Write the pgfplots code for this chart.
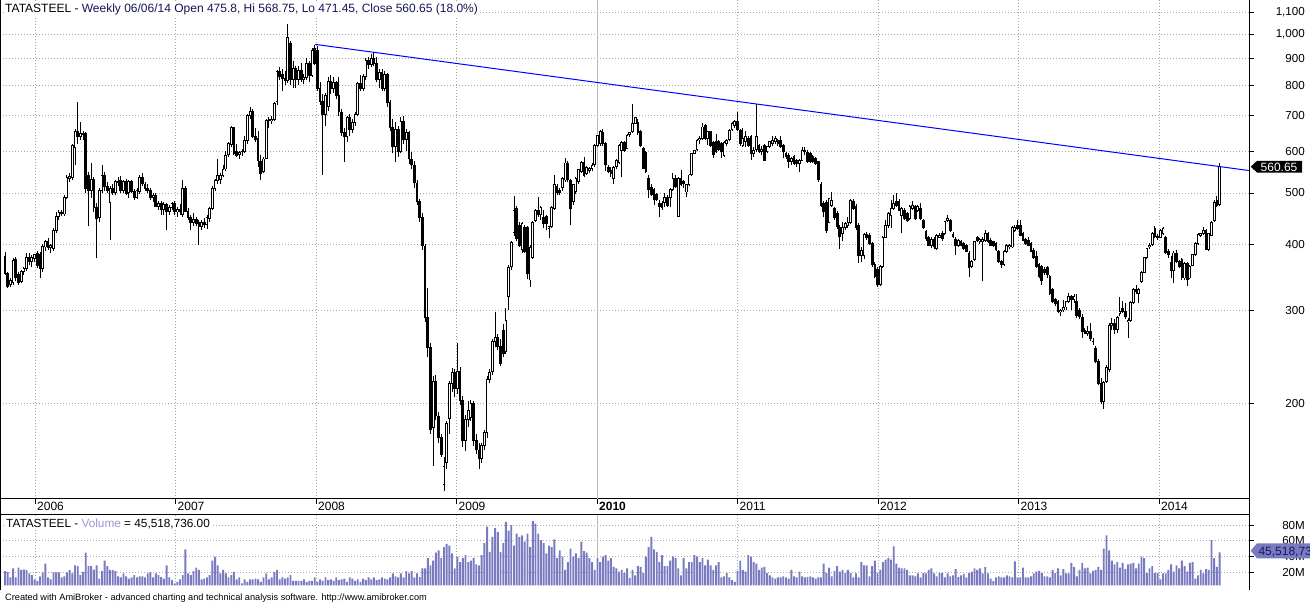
\documentclass[border=0pt]{standalone}
\usepackage{fontspec}
\setmainfont{Liberation Sans}
\usepackage{pgfplots}
\usepackage{pgfplotstable}
\pgfplotsset{compat=1.18}
\definecolor{volbar}{RGB}{122,122,192}
\definecolor{vollab}{RGB}{152,152,216}
\definecolor{hdr}{RGB}{22,22,88}
\definecolor{gridc}{RGB}{168,168,168}
\pgfplotstableread{
i O H L C V
0 380 386 350 352 21.5
1 352 355 330 333 20.7
2 335 345 332 342 13.5
3 338 376 335 372 25
4 375 378 340 345 13.5
5 350 355 335 338 26
6 340 358 337 355 23
7 355 362 350 360 23.6
8 360 385 356 378 23
9 378 385 365 370 18.6
10 370 382 362 378 16.5
11 376 384 370 382 11
12 384 388 360 365 9.3
13 382 386 345 360 15
14 360 400 355 396 20
15 395 408 388 404 31
16 404 410 390 394 13.5
17 394 400 385 398 11
18 392 430 388 425 20
19 425 460 420 452 20
20 452 465 444 460 20
21 460 465 452 456 13.5
22 456 495 452 491 15
23 491 540 487 535 20
24 533 545 525 538 23
25 535 620 530 615 18.6
26 610 660 565 655 29
27 655 742 620 640 28
28 640 680 630 648 16.5
29 648 655 630 645 20.7
30 648 652 500 510 45
31 540 548 432 505 28
32 505 570 490 530 28
33 530 535 460 470 23.6
34 470 478 376 448 29
35 450 512 440 505 12
36 505 565 500 540 21.5
37 540 548 505 515 35
38 515 525 500 505 28
39 480 515 407 510 23
40 510 520 495 500 23
41 500 530 495 525 21.5
42 525 535 515 522 15
43 528 538 500 505 13.5
44 505 530 500 525 18.6
45 525 532 495 498 15
46 500 530 490 525 12
47 525 530 500 503 13.5
48 503 508 485 490 16.5
49 490 510 488 505 13.5
50 503 540 498 535 15
51 535 545 515 520 15
52 520 525 505 510 13.5
53 510 520 500 505 18.6
54 505 510 485 490 20.7
55 490 500 480 495 13.5
56 495 500 470 472 18.6
57 472 482 465 478 16.5
58 478 482 455 465 14
59 465 480 455 475 12
60 475 478 425 460 29
61 462 475 455 470 13.5
62 470 480 465 478 10
63 478 482 455 460 6
64 460 470 450 465 8
65 465 476 455 460 11
66 455 528 450 510 16.5
67 510 515 460 462 49
68 462 468 445 450 18.6
69 450 455 425 440 16.5
70 440 458 432 445 21.5
71 445 450 432 438 26
72 440 445 398 432 23
73 432 445 425 440 11
74 440 448 430 435 12
75 435 455 428 450 13.5
76 448 470 440 468 16.5
77 468 515 465 510 35
78 510 532 505 528 40
79 528 580 520 540 29
80 530 545 520 540 18.6
81 540 565 535 555 23
82 555 600 550 590 18.6
83 590 625 585 620 13.5
84 618 670 610 665 16.5
85 665 668 590 595 20.7
86 600 620 585 588 11
87 590 600 580 596 13.5
88 596 605 588 600 6
89 598 640 595 630 11
90 628 705 620 700 8
91 700 728 690 715 11
92 715 720 635 640 11
93 640 665 625 630 12
94 635 655 560 575 11
95 575 590 530 545 8
96 548 585 545 580 13.5
97 582 690 580 685 18.6
98 685 695 665 688 11
99 685 700 675 690 13.5
100 690 745 685 740 20.7
101 745 855 735 850 23
102 850 865 820 830 11
103 840 860 780 825 13.5
104 825 850 800 815 12
105 815 1045 808 985 13.5
106 960 970 800 820 16.5
107 820 890 790 860 9.3
108 860 870 790 820 9.3
109 820 870 800 855 9.3
110 855 880 810 820 9.3
111 820 840 805 828 11
112 828 900 820 880 8
113 880 890 810 835 9.3
114 835 940 830 930 9.3
115 940 955 875 880 13.5
116 930 950 780 790 8
117 790 810 735 745 11
118 745 770 541 705 9.3
119 705 775 670 765 13.5
120 730 830 715 815 10
121 815 835 770 790 11
122 790 830 775 810 9.3
123 810 815 755 765 13.5
124 765 830 700 712 10
125 712 720 640 650 11
126 650 665 572 640 12
127 640 700 625 695 8
128 695 705 640 660 13.5
129 660 690 650 680 12
130 680 712 670 705 9.3
131 705 810 700 805 11
132 805 835 780 790 8
133 790 840 780 830 12
134 830 900 820 890 10
135 890 905 860 875 13.5
136 875 915 865 900 11
137 900 925 870 880 13.5
138 880 905 810 820 10
139 820 860 790 845 11
140 845 860 780 790 13.5
141 790 850 780 838 12
142 838 845 728 742 11
143 742 750 655 665 13.5
144 665 690 595 612 18.6
145 612 682 572 660 15
146 660 670 585 600 13.5
147 600 695 595 682 18.6
148 682 700 620 630 13.5
149 630 660 600 650 21.5
150 650 655 568 580 18.6
151 580 598 555 565 21.5
152 565 575 512 522 13.5
153 522 530 475 482 18.6
154 482 488 440 450 14
155 450 458 390 397 25
156 397 400 285 290 25
157 290 330 245 255 38
158 255 260 175 178 29
159 180 225 152 220 35
160 220 226 186 189 45
161 189 192 168 172 48
162 172 175 158 160 38
163 140 158 136 152 52
164 154 185 150 183 56
165 187 220 175 218 54
166 218 233 210 229 44
167 229 232 205 213 25
168 213 260 208 230 40
169 230 234 198 202 33
170 202 206 165 170 38
171 170 190 162 186 42
172 186 202 180 194 33
173 188 203 185 200 35
174 200 202 166 170 38
175 170 175 160 163 30
176 163 168 150 157 29
177 157 168 154 166 42
178 166 178 163 176 57
179 176 225 172 222 78
180 222 232 218 229 46
181 229 265 226 262 65
182 262 297 255 266 76
183 266 270 252 256 71
184 256 265 235 238 46
185 275 282 244 248 57
186 250 303 248 287 84
187 318 365 300 362 73
188 362 405 358 403 80
189 420 493 415 464 54
190 467 472 405 410 69
191 434 440 395 398 65
192 390 440 385 437 67
193 430 435 385 388 59
194 430 432 343 352 69
195 342 398 332 395 52
196 378 442 375 440 85
197 444 466 440 464 82
198 464 491 450 455 69
199 455 472 445 470 61
200 450 464 430 438 57
201 452 455 425 438 44
202 428 432 410 432 54
203 432 472 430 470 52
204 468 541 465 518 62
205 515 520 495 500 38
206 505 512 495 500 48
207 511 536 505 533 40
208 529 582 525 570 23
209 570 575 525 529 33
210 529 532 434 468 50
211 482 520 475 518 40
212 503 536 498 533 44
213 525 556 520 553 38
214 548 574 545 572 59
215 572 586 535 540 47
216 545 562 540 558 45
217 552 560 545 557 38
218 557 570 550 565 33
219 565 618 560 616 23
220 616 645 612 644 38
221 620 658 615 653 33
222 650 660 615 620 40
223 620 625 550 565 42
224 560 565 545 550 35
225 552 560 535 545 38
226 533 562 521 560 27
227 560 580 555 577 25
228 572 618 568 616 21
229 602 626 535 624 23
230 624 628 598 602 19
231 608 646 605 644 25
232 644 652 638 650 13
233 653 738 650 678 23
234 678 698 675 696 16
235 681 690 645 650 28
236 653 658 612 616 27
237 608 612 555 557 19
238 597 600 545 548 40
239 533 541 489 507 52
240 513 520 494 497 65
241 507 510 474 485 49
242 496 500 482 486 46
243 478 485 450 471 33
244 478 482 465 470 42
245 480 500 470 491 28
246 491 495 470 474 28
247 491 510 470 507 35
248 507 545 505 533 40
249 533 540 510 515 38
250 452 536 450 533 25
251 533 553 515 518 16
252 525 530 510 520 38
253 502 520 491 518 25
254 518 543 515 541 33
255 541 596 538 595 33
256 595 604 592 602 42
257 603 632 600 630 40
258 630 640 620 635 33
259 635 678 630 667 38
260 670 676 630 635 29
261 635 655 616 653 36
262 653 656 612 616 29
263 624 628 582 590 23
264 625 648 595 598 29
265 625 630 600 605 33
266 620 625 582 598 13.5
267 588 626 585 624 15
268 620 632 615 630 19
269 630 660 628 658 13.5
270 658 680 655 677 10
271 670 688 665 682 8
272 682 712 655 658 21.5
273 658 662 615 620 35
274 616 663 610 634 23
275 625 655 610 639 21
276 634 640 612 616 42
277 639 645 577 594 40
278 594 610 585 603 33
279 603 738 598 639 31
280 616 620 594 598 23
281 598 615 590 605 26
282 616 620 575 577 27
283 598 614 595 612 19
284 612 628 608 625 16
285 620 640 615 630 13.5
286 625 640 620 634 12
287 630 634 615 620 13.5
288 630 640 608 612 13.5
289 616 620 582 598 15
290 594 598 580 586 13.5
291 590 594 557 573 12
292 573 586 565 582 23
293 586 590 565 569 15
294 577 580 560 569 13.5
295 569 580 549 577 21
296 577 610 575 603 15
297 603 610 590 598 13.5
298 598 603 570 573 14
299 594 598 570 573 15
300 586 590 570 573 13.5
301 582 586 565 569 12
302 573 576 525 529 13.5
303 520 524 470 474 13.5
304 478 482 450 460 31
305 479 485 420 425 19
306 440 490 438 488 26
307 474 502 470 485 15
308 467 470 445 450 22
309 458 462 428 432 28
310 430 434 392 413 21
311 418 440 405 430 23
312 430 440 425 437 19
313 434 450 430 440 23
314 440 488 436 485 19
315 482 486 465 467 13.5
316 472 476 425 430 18.6
317 434 438 369 380 13.5
318 380 395 370 390 33
319 380 420 375 418 29
320 418 422 408 412 29
321 416 420 398 401 15
322 401 404 362 366 28
323 366 370 345 347 35
324 358 362 332 335 19
325 335 366 333 363 23
326 363 414 360 412 33
327 412 444 410 434 36
328 434 460 430 457 38
329 454 485 430 467 36
330 467 496 465 478 53
331 482 500 470 474 31
332 482 486 462 464 26
333 454 470 419 467 25
334 464 468 444 447 25
335 457 460 440 444 23
336 447 474 444 471 16
337 467 482 465 474 16
338 471 475 444 447 15
339 464 474 460 471 18.6
340 467 478 444 447 13.5
341 444 447 428 430 19
342 422 425 406 409 18.6
343 412 415 396 398 23
344 398 412 393 409 25
345 409 412 392 395 18.6
346 393 418 390 416 15
347 412 420 410 416 19
348 419 424 406 409 19
349 419 443 416 441 13.5
350 444 454 440 447 18.6
351 444 447 422 425 15
352 418 422 410 414 16
353 409 412 382 398 24
354 398 409 395 407 14
355 404 407 396 398 16
356 401 404 390 393 18
357 398 400 386 388 13.5
358 385 388 347 361 19
359 363 374 360 371 21
360 374 406 372 404 25
361 412 415 404 407 23
362 404 411 400 409 25
363 404 412 340 409 18.6
364 407 425 404 419 27
365 419 422 402 404 18.6
366 407 410 396 398 12
367 404 406 395 398 9
368 401 404 388 390 13.5
369 388 390 369 371 15
370 371 374 361 366 13.5
371 366 390 364 388 13.5
372 388 400 385 398 16
373 395 400 392 398 15
374 395 432 393 430 13.5
375 425 434 422 430 34
376 434 444 425 428 13.5
377 434 445 414 416 13.5
378 419 421 405 407 26
379 409 411 399 401 13.5
380 407 412 396 398 13.5
381 401 404 386 388 15
382 390 393 375 377 18.6
383 380 388 361 363 21
384 366 368 345 347 22
385 363 366 335 341 19
386 358 362 350 353 15
387 361 363 345 350 15
388 347 350 320 323 13.5
389 328 330 309 311 23
390 314 316 306 309 19
391 311 313 296 298 25
392 298 302 293 300 16
393 300 314 298 304 24
394 304 312 300 311 18.6
395 312 323 310 318 18.6
396 318 320 300 314 32
397 314 322 310 318 27
398 311 322 290 293 15
399 300 303 288 291 23
400 291 295 266 273 32
401 275 278 270 271 25
402 271 280 268 273 26
403 273 283 262 265 18.6
404 262 266 258 262 22
405 254 256 238 240 23
406 240 242 216 218 27
407 218 223 199 201 23
408 201 220 195 219 50
409 220 236 218 234 67
410 231 284 229 281 48
411 280 290 275 283 35
412 283 288 270 275 30
413 275 292 272 290 33
414 296 318 293 298 26
415 302 312 296 298 32
416 298 310 288 291 24
417 285 290 266 287 30
418 287 312 285 310 31
419 310 330 308 328 32
420 328 335 322 325 25
421 323 330 309 328 31
422 340 356 338 354 40
423 354 378 352 377 38
424 377 394 375 393 19
425 395 402 392 398 25
426 399 421 397 420 28
427 428 433 410 413 19
428 412 418 408 414 19
429 412 428 410 425 11
430 419 431 417 428 18.6
431 412 415 384 386 18.6
432 388 392 377 383 23
433 369 380 345 356 30
434 356 388 337 385 21
435 385 390 368 371 29
436 371 374 360 363 25
437 374 376 342 345 35
438 345 370 342 368 28
439 368 370 333 343 21
440 345 366 343 363 32
441 365 383 363 382 33
442 382 403 380 401 12
443 401 420 399 418 16
444 416 420 412 419 23
445 419 431 416 425 18.6
446 425 428 390 391 24
447 391 420 389 419 23
448 416 442 414 440 61
449 444 485 440 480 38
450 485 493 470 474 27
451 475.8 568.75 471.45 560.65 45.5
}\ohlc
\pgfplotsset{
  eb/.style={only marks, mark=*, mark size=0pt, mark options={draw=none, fill=none}, forget plot,
    error bars/.cd, y dir=plus, y explicit, error mark=none, error bar style={#1}},
  common/.style={
    scale only axis, width=1249pt,
    xmin=-1.857, xmax=461.94,
    axis y line*=right,
    axis line style={black, line width=1pt},
    major tick length=5pt, tick align=outside,
    tick style={black, line width=0.8pt},
    xmajorgrids, ymajorgrids,
    major grid style={gridc, line width=0.8pt, dash pattern=on 1pt off 2pt},
    xtick={11.14,63.31,115.48,167.65,272.00,324.17,376.34,428.51},
    extra x ticks={219.83},
    extra x tick style={major grid style={solid, black!28, line width=0.9pt}},
    yticklabel style={anchor=east, inner sep=0pt, xshift=51pt, font=\fontsize{11.6}{13}\selectfont},
  }
}
\begin{document}
\begin{tikzpicture}
\useasboundingbox (0pt,0pt) rectangle (1310pt,604pt);
\begin{scope}[shift={(0pt,105pt)}]
\begin{axis}[common, height=499pt,
  ymin=2.1193, ymax=3.0645, axis x line*=bottom,
  xticklabels={2006,2007,2008,2009,2011,2012,2013,2014},
  extra x tick labels={\textbf{2010}},
  xticklabel style={anchor=base west, inner sep=0pt, xshift=2pt, yshift=-6.7pt, font=\fontsize{12}{13}\selectfont},
  ytick={2.30103,2.47712,2.60206,2.69897,2.77815,2.84510,2.90309,2.95424,3,3.04139},
  yticklabels={200,300,400,500,600,700,800,900,{1,000},{1,100}}]
% wicks
\addplot [eb={draw=black, line width=0.9pt}]
  table [x=i, y expr={log10(\thisrow{L})}, y error plus expr={log10(\thisrow{H})-log10(\thisrow{L})}] {\ohlc};
% falling weeks: filled bodies
\addplot [eb={draw=black, line width=2.7pt, shorten <=-0.4pt, shorten >=-0.4pt}]
  table [x=i, y expr={\thisrow{C}<\thisrow{O} ? log10(\thisrow{C}) : nan}, y error plus expr={log10(\thisrow{O})-log10(\thisrow{C})}] {\ohlc};
% rising weeks: hollow bodies
\addplot [eb={draw=black, line width=2.7pt, shorten <=-0.4pt, shorten >=-0.4pt}]
  table [x=i, y expr={\thisrow{C}<\thisrow{O} ? nan : log10(\thisrow{O})}, y error plus expr={log10(\thisrow{C})-log10(\thisrow{O})}] {\ohlc};
\addplot [eb={draw=white, line width=1.0pt, shorten <=0.55pt, shorten >=0.55pt}]
  table [x=i, y expr={\thisrow{C}>1.006*\thisrow{O} ? log10(\thisrow{O}) : nan}, y error plus expr={log10(\thisrow{C})-log10(\thisrow{O})}] {\ohlc};
% trend line
\addplot [blue, line width=1pt, mark=none]
  table [row sep=\\, x=i, y expr={log10(\thisrow{p})}] {i p\\ 115.2 956\\ 461.94 551.4\\};
\end{axis}
\end{scope}
\begin{scope}[shift={(0pt,18.5pt)}]
\begin{axis}[common, height=70.5pt,
  ymin=3.3, ymax=92.8, axis x line*=top,
  xticklabels={}, extra x tick labels={}, xtick style={draw=none},
  ytick={20,40,60,80}, yticklabels={20M,40M,60M,80M}]
\addplot [ybar, bar width=1.9pt, fill=volbar, draw=none] table [x=i, y=V] {\ohlc};
\end{axis}
\end{scope}
\draw[line width=1pt] (1249pt,14pt) -- (1249pt,105pt);
\draw[line width=1pt] (0.5pt,14pt) -- (0.5pt,604pt);
\node[anchor=base west, inner sep=1pt, fill=white, font=\fontsize{12}{14}\selectfont] at (4pt,591.3pt)
  {TATASTEEL - \textcolor{hdr}{Weekly 06/06/14 Open 475.8, Hi 568.75, Lo 471.45, Close 560.65 (18.0\%)}};
\node[anchor=base west, inner sep=1pt, fill=white, font=\fontsize{11.8}{13}\selectfont] at (5pt,76.7pt)
  {TATASTEEL - \textcolor{vollab}{Volume} = 45,518,736.00};
\node[anchor=base west, inner sep=0pt, font=\fontsize{9.2}{10}\selectfont] at (5pt,3pt)
  {Created with AmiBroker - advanced charting and technical analysis software. http://www.amibroker.com};
\fill[black] (1250.7pt,437.3pt) -- (1257pt,443.2pt) -- (1302pt,443.2pt) -- (1302pt,431.4pt) -- (1257pt,431.4pt) -- cycle;
\node[anchor=base west, inner sep=0pt, text=white, font=\fontsize{12}{13}\selectfont] at (1260.5pt,432.6pt) {560.65};
\fill[volbar] (1250.7pt,53.3pt) -- (1257pt,60.7pt) -- (1320pt,60.7pt) -- (1320pt,45.7pt) -- (1257pt,45.7pt) -- cycle;
\node[anchor=base west, inner sep=0pt, text=hdr, font=\fontsize{12}{13}\selectfont] at (1258.3pt,48pt) {45,518,736.00};
\end{tikzpicture}
\end{document}
